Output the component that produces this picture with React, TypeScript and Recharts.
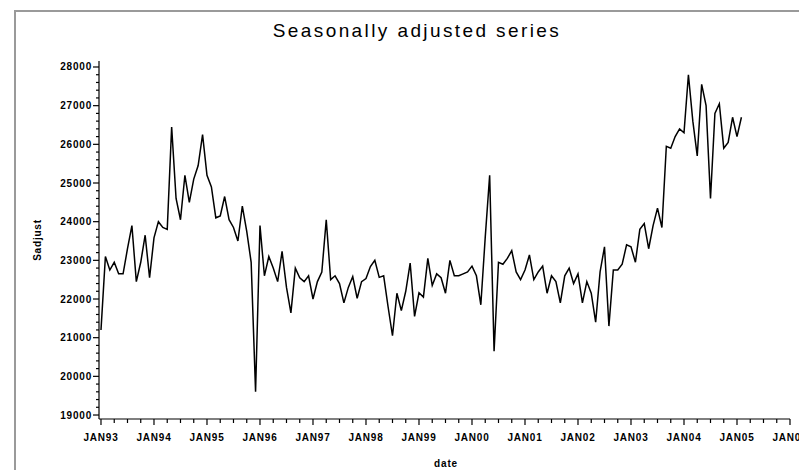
import { LineChart, Line, XAxis, YAxis } from 'recharts';

// monthly values, JAN93 onward
const sadjust = [
  21200, 23100, 22750, 22950, 22650, 22650, 23300, 23900, 22450, 22950, 23650, 22550,
  23580, 24000, 23850, 23800, 26450, 24600, 24050, 25200, 24500, 25100, 25450, 26250,
  25200, 24900, 24100, 24150, 24650, 24050, 23850, 23500, 24400, 23750, 22950, 19600,
  23900, 22600, 23100, 22800, 22450, 23230, 22300, 21640, 22800, 22550, 22450, 22600,
  22000, 22450, 22700, 24050, 22500, 22600, 22400, 21900, 22300, 22580, 22020, 22450,
  22530, 22840, 23000, 22560, 22600, 21800, 21050, 22150, 21700, 22200, 22930, 21550,
  22160, 22050, 23050, 22350, 22650, 22550, 22150, 23000, 22600, 22600, 22650, 22700,
  22850, 22600, 21850, 23600, 25200, 20650, 22950, 22900, 23050, 23250, 22700, 22500,
  22750, 23140, 22500, 22700, 22850, 22150, 22600, 22450, 21900, 22600, 22800, 22400,
  22650, 21900, 22450, 22150, 21400, 22700, 23350, 21300, 22750, 22750, 22900, 23400,
  23350, 22950, 23800, 23950, 23300, 23900, 24350, 23850, 25950, 25900, 26200, 26400,
  26300, 27800, 26600, 25700, 27550, 27000, 24600, 26800, 27050, 25900, 26050, 26700,
  26200, 26700,
];

const yearLabels = [
  'JAN93', 'JAN94', 'JAN95', 'JAN96', 'JAN97', 'JAN98', 'JAN99',
  'JAN00', 'JAN01', 'JAN02', 'JAN03', 'JAN04', 'JAN05', 'JAN06',
];

const yMajor = [19000, 20000, 21000, 22000, 23000, 24000, 25000, 26000, 27000, 28000];

const data = sadjust.map((v, i) => ({ m: i, v }));

// quarterly ticks on x, every 200 on y
const xTicks: number[] = [];
for (let m = 0; m <= (yearLabels.length - 1) * 12; m += 3) xTicks.push(m);
const yTicks: number[] = [];
for (let v = yMajor[0]; v <= yMajor[yMajor.length - 1]; v += 200) yTicks.push(v);

const FONT = '"Liberation Sans", Arial, sans-serif';

const YTick = (props: any) => {
  const { x, y, payload } = props;
  const major = payload.value % 1000 === 0;
  return (
    <g>
      <line x1={x} x2={x - (major ? 6 : 3)} y1={y} y2={y} stroke="#000" strokeWidth={1.2} />
      {major && (
        <text
          x={x - 7}
          y={y}
          dy="0.35em"
          textAnchor="end"
          fontFamily={FONT}
          fontSize={10}
          fontWeight="bold"
          letterSpacing={0.8}
          fill="#000"
        >
          {payload.value}
        </text>
      )}
    </g>
  );
};

const XTick = (props: any) => {
  const { x, y, payload } = props;
  const major = payload.value % 12 === 0;
  return (
    <g>
      <line x1={x} x2={x} y1={y} y2={y + (major ? 6 : 4)} stroke="#000" strokeWidth={1.2} />
      {major && (
        <text
          x={x}
          y={y + 22}
          textAnchor="middle"
          fontFamily={FONT}
          fontSize={10}
          fontWeight="bold"
          letterSpacing={0.8}
          fill="#000"
        >
          {yearLabels[payload.value / 12]}
        </text>
      )}
    </g>
  );
};

export default function App() {
  return (
    <div
      style={{
        position: 'fixed',
        left: 0,
        top: 0,
        width: 799,
        height: 470,
        overflow: 'hidden',
        background: '#fff',
      }}
    >
      <div
        style={{
          position: 'absolute',
          left: 14,
          top: 10,
          width: 900,
          height: 600,
          borderLeft: '2px solid #9a9a9a',
          borderTop: '2px solid #9a9a9a',
        }}
      />
      <div
        style={{
          position: 'absolute',
          left: 0,
          width: 834,
          top: 20,
          textAlign: 'center',
          fontFamily: FONT,
          fontSize: 19,
          letterSpacing: 2.4,
          color: '#000',
        }}
      >
        Seasonally adjusted series
      </div>
      <div
        style={{
          position: 'absolute',
          left: 37,
          top: 240,
          transform: 'translate(-50%, -50%) rotate(-90deg)',
          fontFamily: FONT,
          fontSize: 10,
          fontWeight: 'bold',
          letterSpacing: 0.8,
          whiteSpace: 'nowrap',
        }}
      >
        Sadjust
      </div>
      <div
        style={{
          position: 'absolute',
          left: 446,
          top: 463,
          transform: 'translate(-50%, -50%)',
          fontFamily: FONT,
          fontSize: 10,
          fontWeight: 'bold',
          letterSpacing: 0.8,
        }}
      >
        date
      </div>
      <LineChart
        width={799}
        height={470}
        data={data}
        margin={{ top: 61, right: 9, bottom: 0, left: 0 }}
        style={{ position: 'absolute', left: 0, top: 0 }}
      >
        <XAxis
          dataKey="m"
          type="number"
          domain={[-0.45, 156]}
          ticks={xTicks}
          interval={0}
          allowDataOverflow
          height={51}
          tickSize={0}
          tickMargin={0}
          tickLine={false}
          tick={<XTick />}
          axisLine={{ stroke: '#000', strokeWidth: 1.2 }}
        />
        <XAxis
          xAxisId="top"
          orientation="top"
          dataKey="m"
          type="number"
          domain={[-0.45, 156]}
          height={0}
          tick={false}
          tickLine={false}
          axisLine={{ stroke: '#000', strokeWidth: 1.2 }}
        />
        <YAxis
          type="number"
          domain={[18897, 28155]}
          ticks={yTicks}
          interval={0}
          allowDataOverflow
          width={99}
          tickSize={0}
          tickMargin={0}
          tickLine={false}
          tick={<YTick />}
          axisLine={{ stroke: '#000', strokeWidth: 1.2 }}
        />
        <YAxis
          yAxisId="right"
          orientation="right"
          type="number"
          domain={[18897, 28155]}
          width={0}
          tick={false}
          tickLine={false}
          axisLine={{ stroke: '#000', strokeWidth: 1.2 }}
        />
        <Line
          type="linear"
          dataKey="v"
          stroke="#000"
          strokeWidth={1.5}
          dot={false}
          isAnimationActive={false}
        />
      </LineChart>
    </div>
  );
}
